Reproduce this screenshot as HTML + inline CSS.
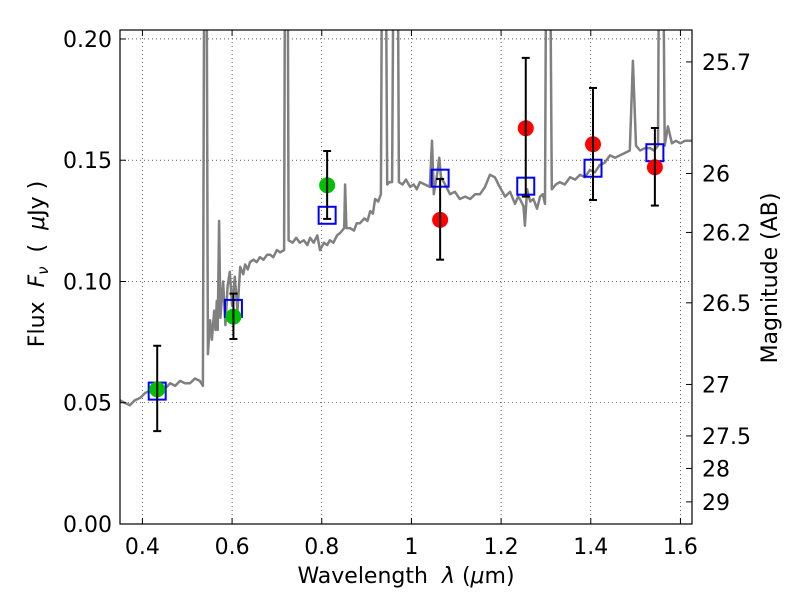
<!DOCTYPE html>
<html><head><meta charset="utf-8"><style>
body{margin:0;background:#fff}
svg{display:block;font-family:"DejaVu Sans","Liberation Sans",sans-serif}
text{white-space:pre}
</style></head><body>
<svg id="chart" width="800" height="600" viewBox="0 0 800 600" xmlns="http://www.w3.org/2000/svg"></svg>
<script>
const specWave=[0.350,0.360,0.372,0.383,0.395,0.406,0.417,0.428,0.440,0.451,0.462,0.473,0.484,0.495,0.506,0.517,0.528,0.535,0.539,0.542,0.546,0.551,0.555,0.560,0.563,0.566,0.568,0.571,0.574,0.580,0.585,0.590,0.595,0.600,0.606,0.612,0.618,0.625,0.629,0.635,0.640,0.648,0.655,0.662,0.670,0.678,0.685,0.692,0.700,0.707,0.716,0.719,0.723,0.726,0.735,0.743,0.751,0.760,0.768,0.774,0.782,0.790,0.796,0.805,0.812,0.818,0.826,0.834,0.841,0.850,0.852,0.855,0.863,0.872,0.878,0.885,0.895,0.902,0.908,0.914,0.919,0.926,0.932,0.936,0.941,0.946,0.951,0.957,0.962,0.968,0.972,0.980,0.988,0.997,1.005,1.012,1.019,1.030,1.041,1.046,1.050,1.058,1.062,1.066,1.075,1.086,1.097,1.108,1.120,1.131,1.142,1.153,1.164,1.175,1.186,1.197,1.209,1.220,1.231,1.238,1.242,1.250,1.253,1.258,1.265,1.272,1.280,1.287,1.293,1.298,1.302,1.307,1.313,1.322,1.331,1.342,1.354,1.365,1.376,1.387,1.398,1.409,1.420,1.431,1.443,1.454,1.465,1.476,1.487,1.494,1.501,1.510,1.521,1.532,1.541,1.550,1.554,1.559,1.565,1.572,1.581,1.590,1.600,1.610,1.626];
const specFlux=[.051,.050,.049,.051,.052,.054,.055,.054,.057,.056,.058,.057,.059,.058,.058,.060,.059,.057,.30,.30,.070,.084,.076,.088,.080,.092,.080,.125,.085,.100,.082,.098,.104,.090,.102,.088,.106,.103,.107,.105,.108,.109,.108,.110,.109,.111,.111,.110,.113,.112,.113,.30,.30,.117,.116,.118,.116,.117,.115,.118,.116,.119,.113,.116,.115,.117,.116,.119,.120,.122,.140,.122,.122,.121,.124,.124,.126,.125,.129,.128,.134,.133,.136,.30,.30,.140,.141,.141,.30,.30,.141,.140,.142,.139,.140,.138,.141,.140,.139,.158,.136,.145,.151,.143,.140,.136,.137,.134,.135,.134,.136,.136,.139,.144,.143,.139,.135,.137,.132,.135,.134,.131,.123,.138,.133,.134,.130,.135,.136,.132,.30,.30,.138,.140,.141,.140,.143,.142,.144,.143,.146,.145,.148,.149,.152,.151,.152,.153,.154,.191,.156,.154,.155,.155,.154,.156,.30,.30,.156,.164,.157,.158,.157,.158,.158];
const obsWave=[0.433,0.603,0.812,1.064,1.255,1.405,1.543];
const obsFlux=[0.0555,0.0855,0.1397,0.1254,0.1632,0.1566,0.1471];
const errHi=[0.0735,0.0950,0.1538,0.1423,0.1922,0.1798,0.1633];
const errLo=[0.0383,0.0763,0.1258,0.1090,0.1350,0.1336,0.1313];
const obsColor=['green','green','green','red','red','red','red'];
const modelFlux=[0.0548,0.0889,0.1273,0.1426,0.1393,0.1467,0.1531];
const xTicks=[0.4,0.6,0.8,1.0,1.2,1.4,1.6];
const xTickLabels=['0.4','0.6','0.8','1','1.2','1.4','1.6'];
const yTicks=[0,0.05,0.10,0.15,0.20];
const yTickLabels=['0.00','0.05','0.10','0.15','0.20'];
const magTicks=[25.7,26,26.2,26.5,27,27.5,28,29];
const magTickLabels=['25.7','26','26.2','26.5','27','27.5','28','29'];

const L=120,R=692,T=30,B=524;
const X0=0.35,X1=1.6258,Y0=0,Y1=0.2037;
const sx=v=>L+(v-X0)/(X1-X0)*(R-L);
const sy=v=>B-(v-Y0)/(Y1-Y0)*(B-T);
const NS='http://www.w3.org/2000/svg';
const svg=document.getElementById('chart');
function mk(tag,attrs,parent){const e=document.createElementNS(NS,tag);for(const k in attrs)e.setAttribute(k,attrs[k]);(parent||svg).appendChild(e);return e;}

const defs=mk('defs',{});
const cp=mk('clipPath',{id:'clip'},defs);
mk('rect',{x:L,y:T,width:R-L,height:B-T},cp);

const grid=mk('g',{});


xTicks.forEach(v=>{mk('line',{x1:sx(v),x2:sx(v),y1:T,y2:B,stroke:'#000','stroke-width':0.6,'stroke-dasharray':'1,3'},grid);});
yTicks.forEach(v=>{mk('line',{x1:L,x2:R,y1:sy(v),y2:sy(v),stroke:'#000','stroke-width':0.6,'stroke-dasharray':'1,3'},grid);});

let d='';
specWave.forEach((w,i)=>{d+=(i?'L':'M')+sx(w).toFixed(1)+','+sy(specFlux[i]).toFixed(1);});
const sp=mk('path',{d:d,fill:'none',stroke:'#808080','stroke-width':2.5,'clip-path':'url(#clip)','stroke-linejoin':'round'});



obsWave.forEach((w,i)=>{
  const r=mk('rect',{x:sx(w)-8.5,y:sy(modelFlux[i])-8.5,width:17,height:17,fill:'none',stroke:'#0000ff','stroke-width':2});
  
  
});
obsWave.forEach((w,i)=>{
  const x=sx(w);
  const c=mk('circle',{cx:x,cy:sy(obsFlux[i]),r:8,fill:obsColor[i]==='green'?'#00c000':'#ff0000'});
  
  
  const g=mk('g',{stroke:'#000','stroke-width':2});
  
  
  mk('line',{x1:x,x2:x,y1:sy(errHi[i]),y2:sy(errLo[i])},g);
  mk('line',{x1:x-4,x2:x+4,y1:sy(errHi[i]),y2:sy(errHi[i])},g);
  mk('line',{x1:x-4,x2:x+4,y1:sy(errLo[i]),y2:sy(errLo[i])},g);
});

const fr=mk('rect',{x:L,y:T,width:R-L,height:B-T,fill:'none',stroke:'#000','stroke-width':1.2});



const FS=22;
xTicks.forEach((v,i)=>{
  mk('line',{x1:sx(v),x2:sx(v),y1:B,y2:B-6,stroke:'#000'});
  mk('line',{x1:sx(v),x2:sx(v),y1:T,y2:T+6,stroke:'#000'});
  const t=mk('text',{x:sx(v),y:B+30,'font-size':FS,'text-anchor':'middle'});
  t.textContent=xTickLabels[i];
  
  
});
yTicks.forEach((v,i)=>{
  mk('line',{x1:L,x2:L+6,y1:sy(v),y2:sy(v),stroke:'#000'});
  const t=mk('text',{x:L-8,y:sy(v)+8,'font-size':FS,'text-anchor':'end'});
  t.textContent=yTickLabels[i];
  
  
});
magTicks.forEach((m,i)=>{
  const y=sy(Math.pow(10,(23.9-m)/2.5));
  mk('line',{x1:R,x2:R-6,y1:y,y2:y,stroke:'#000'});
  const t=mk('text',{x:R+10,y:y+8,'font-size':FS,'text-anchor':'start'});
  t.textContent=magTickLabels[i];
  
  
});

const xt=mk('text',{x:406,y:583,'font-size':FS,'text-anchor':'middle'});
xt.innerHTML='Wavelength  <tspan font-style="italic">λ</tspan> (<tspan font-style="italic">μ</tspan>m)';


const yt=mk('text',{x:0,y:0,'font-size':FS,'text-anchor':'middle',transform:'translate(44,264) rotate(-90)'});
yt.innerHTML='Flux  <tspan font-style="italic">F</tspan><tspan font-style="italic" font-size="15" dy="4">ν</tspan><tspan dy="-4">  (  </tspan><tspan font-style="italic">μ</tspan>Jy )';


const rt=mk('text',{x:0,y:0,'font-size':FS,'text-anchor':'middle',transform:'translate(777,278) rotate(-90)'});
rt.textContent='Magnitude (AB)';


</script>
</body></html>
